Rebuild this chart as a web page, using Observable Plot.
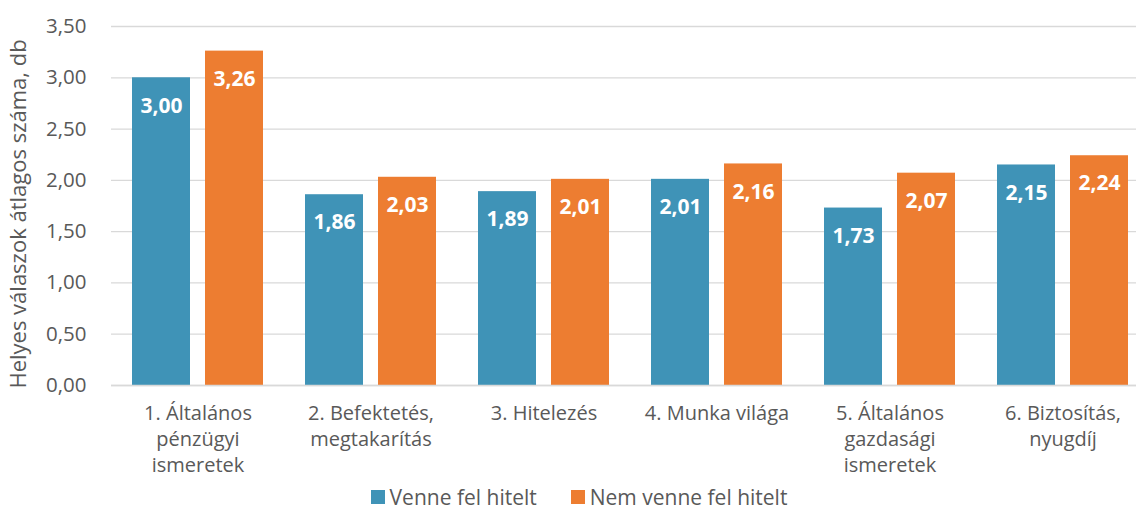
<!DOCTYPE html>
<html>
<head>
<meta charset="utf-8">
<script src="https://cdn.jsdelivr.net/npm/d3@7"></script>
<script src="https://cdn.jsdelivr.net/npm/@observablehq/plot@0.6"></script>
<style>
  html, body { margin: 0; padding: 0; background: #fff; overflow: hidden; }
  #chart { width: 1136px; position: relative; }
  .legend { display: flex; justify-content: center; align-items: center; gap: 34px; font-family: "Open Sans", sans-serif; font-size: 21px; line-height: 21px; color: #595959; height: 24px; padding-left: 22px; }
  .legend span.sw { display: inline-block; width: 14px; height: 14px; margin-right: 5px; }
  .legend .item { display: flex; align-items: center; }
</style>
</head>
<body>
<div id="chart"></div>
<script>
const categories = ["c1", "c2", "c3", "c4", "c5", "c6"];
const categoryLabels = [
  "1. Általános\npénzügyi\nismeretek",
  "2. Befektetés,\nmegtakarítás",
  "3. Hitelezés",
  "4. Munka világa",
  "5. Általános\ngazdasági\nismeretek",
  "6. Biztosítás,\nnyugdíj"
];
const seriesNames = ["Venne fel hitelt", "Nem venne fel hitelt"];
const venneValues = [3.00, 1.86, 1.89, 2.01, 1.73, 2.15];
const nemValues = [3.26, 2.03, 2.01, 2.16, 2.07, 2.24];
const yTicks = [0, 0.5, 1, 1.5, 2, 2.5, 3, 3.5];
const colors = ["#3F93B7", "#ED7D31"];
const yTitle = "Helyes válaszok átlagos száma, db";

const data = [];
categories.forEach((c, i) => {
  data.push({cat: c, series: seriesNames[0], value: venneValues[i]});
  data.push({cat: c, series: seriesNames[1], value: nemValues[i]});
});
const labelOf = new Map(categories.map((c, i) => [c, categoryLabels[i]]));
const fmt = d => d.toFixed(2).replace(".", ",");

const chart = Plot.plot({
  width: 1136,
  height: 485,
  marginLeft: 109,
  marginRight: -14,
  marginTop: 26,
  marginBottom: 100,
  style: {fontFamily: "Open Sans, sans-serif", fontSize: "20px", color: "#595959", background: "white"},
  fx: {domain: categories, padding: 0, label: null},
  x: {domain: seriesNames, paddingInner: 0.2, paddingOuter: 0.28, axis: null},
  y: {domain: [0, 3.5], label: null},
  color: {domain: seriesNames, range: colors},
  marks: [
    Plot.gridY(yTicks, {stroke: "#D9D9D9", strokeOpacity: 1, strokeWidth: 1.3}),
    Plot.axisY(yTicks, {tickSize: 0, tickPadding: 25, tickFormat: fmt, label: null, fontSize: 20.5, fill: "#595959"}),
    Plot.axisFx({tickSize: 0, tickPadding: 16, tickFormat: d => labelOf.get(d), lineHeight: 1.3, label: null, fontSize: 20, fill: "#595959", anchor: "bottom"}),
    Plot.barY(data, {fx: "cat", x: "series", y: "value", fill: "series"}),
    Plot.ruleY([0], {stroke: "#D9D9D9", strokeWidth: 1.3}),
    Plot.text(data, {fx: "cat", x: "series", y: "value", text: d => fmt(d.value), dy: 28, fill: "white", fontWeight: "bold", fontSize: 21})
  ]
});

d3.select(chart).append("text")
  .attr("transform", "translate(20,214) rotate(-90)")
  .attr("text-anchor", "middle")
  .attr("dominant-baseline", "middle")
  .attr("font-size", 22)
  .attr("fill", "#595959")
  .text(yTitle);

const root = document.getElementById("chart");
root.appendChild(chart);

const legend = document.createElement("div");
legend.className = "legend";
seriesNames.forEach((s, i) => {
  const item = document.createElement("div");
  item.className = "item";
  const sw = document.createElement("span");
  sw.className = "sw";
  sw.style.background = colors[i];
  item.appendChild(sw);
  item.appendChild(document.createTextNode(s));
  legend.appendChild(item);
});
root.appendChild(legend);
</script>
</body>
</html>
